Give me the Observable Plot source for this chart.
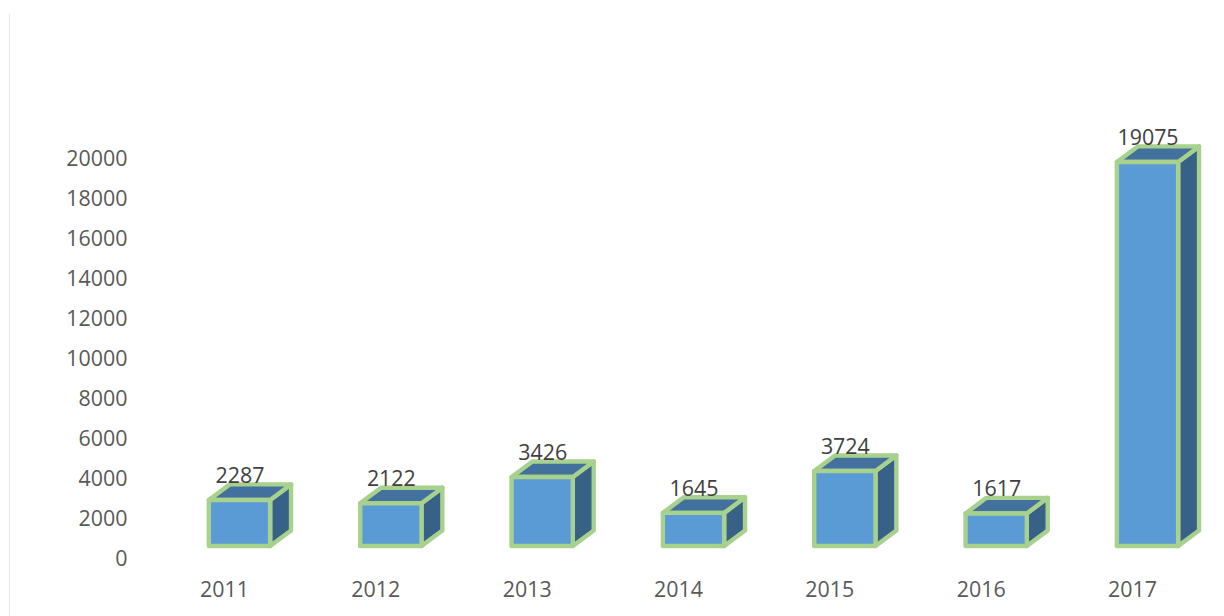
<!DOCTYPE html>
<html>
<head>
<meta charset="utf-8">
<script src="https://cdn.jsdelivr.net/npm/d3@7"></script>
<script src="https://cdn.jsdelivr.net/npm/@observablehq/plot@0.6"></script>
<style>
html,body{margin:0;padding:0;background:#fff;overflow:hidden}
#chart{position:relative;width:1224px;height:616px}
#chart svg{display:block;font-family:"Open Sans",sans-serif}
#edge{position:absolute;left:9px;top:14px;bottom:0;width:1px;background:#e6e6e6}
</style>
</head>
<body>
<div id="chart"><div id="edge"></div></div>
<script>
const years = [2011, 2012, 2013, 2014, 2015, 2016, 2017];
const values = [2287, 2122, 3426, 1645, 3724, 1617, 19075];
const yTicks = [0, 2000, 4000, 6000, 8000, 10000, 12000, 14000, 16000, 18000, 20000];

// The 3D look of the source: a raised floor, a bar width and a receding depth, in data units
const floor = 600, stretch = 1.0065;
const barLeft = -0.1, barRight = 0.305;
const depthX = 0.138, depthY = 780;

const bars = years.map((year, i) => ({
  year, value: values[i],
  x1: year + barLeft, x2: year + barRight,
  base: floor, top: floor + values[i] * stretch
}));
const side = bars.flatMap(b => [
  {year: b.year, x: b.x2, y1: b.base, y2: b.top},
  {year: b.year, x: b.x2 + depthX, y1: b.base + depthY, y2: b.top + depthY}
]);
const lid = bars.flatMap(b => [
  {year: b.year, y: b.top, x1: b.x1, x2: b.x2},
  {year: b.year, y: b.top + depthY, x1: b.x1 + depthX, x2: b.x2 + depthX}
]);

const edge = {stroke: "#a9d18e", strokeWidth: 4.4, strokeLinejoin: "round"};

const chart = Plot.plot({
  width: 1224, height: 616,
  marginLeft: 130, marginRight: 0, marginTop: 0, marginBottom: 38,
  style: {background: "transparent", fontSize: "21px", overflow: "visible"},
  x: {type: "linear", domain: [2011, 2017], range: [224, 1132]},
  y: {type: "linear", domain: [0, 20000], range: [558, 158]},
  marks: [
    Plot.axisY(yTicks, {anchor: "left", tickSize: 0, tickPadding: 3, label: null,
      tickFormat: d3.format("d"), fill: "#595959", fontSize: 21.4, dy: 1}),
    Plot.axisX(years, {anchor: "bottom", tickSize: 0, tickPadding: 0, label: null,
      tickFormat: d3.format("d"), fill: "#595959", fontSize: 21.4, lineAnchor: "middle", dy: 12}),
    Plot.area(side, {x1: "x", x2: "x", y1: "y1", y2: "y2", z: "year", fill: "#376186", ...edge}),
    Plot.area(lid, {x1: "x1", x2: "x2", y1: "y", y2: "y", z: "year", fill: "#41719c", ...edge}),
    Plot.rect(bars, {x1: "x1", x2: "x2", y1: "base", y2: "top", fill: "#5b9bd5", ...edge}),
    Plot.text(bars, {x: d => (d.x1 + d.x2) / 2, y: "top", text: d => String(d.value),
      dy: -24.5, fill: "#404040", fontSize: 21.4})
  ]
});
document.getElementById("chart").appendChild(chart);
</script>
</body>
</html>
